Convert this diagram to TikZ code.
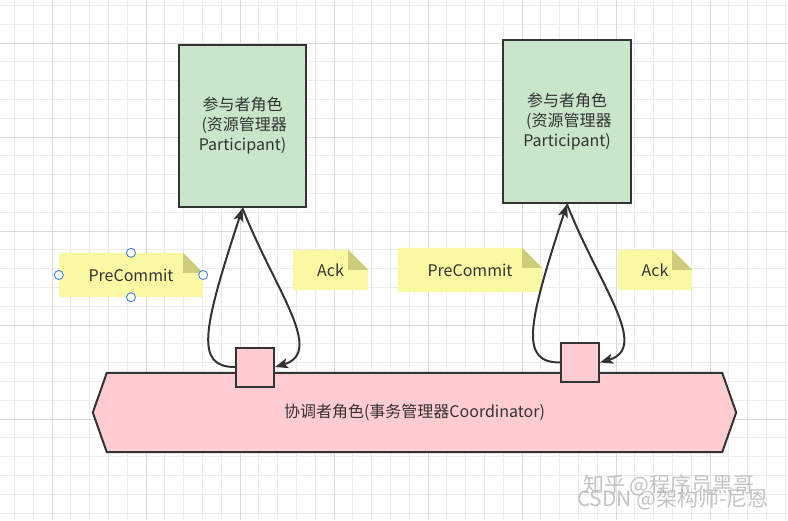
\documentclass[tikz,border=0pt]{standalone}
\usepackage{fontspec}
\setmainfont{Noto Sans CJK SC}
\usetikzlibrary{arrows.meta,backgrounds}
\definecolor{ink}{HTML}{333333}
\definecolor{gridminor}{HTML}{EBEBEB}
\definecolor{gridmajor}{HTML}{DADADA}
\definecolor{boxgreen}{HTML}{C9E6CA}
\definecolor{boxpink}{HTML}{FFCCD1}
\definecolor{notefill}{HTML}{FAF8A2}
\definecolor{foldfill}{HTML}{CDCB7C}
\definecolor{handle}{HTML}{3F85D6}
\newcommand\mynotebg[1]{%
  \fill[notefill] (#1.south west) -- (#1.north west) -- ([xshift=-20pt]#1.north east)
    -- ([yshift=-20pt]#1.north east) -- (#1.south east) -- cycle;
  \fill[foldfill] ([xshift=-20pt]#1.north east) -- ([xshift=-20pt,yshift=-20pt]#1.north east)
    -- ([yshift=-20pt]#1.north east) -- cycle;}
\begin{document}
\begin{tikzpicture}[x=1pt,y=-1pt,
  txt/.style={font=\fontsize{16}{20}\selectfont, text=ink},
  partbox/.style={rectangle, draw=ink, line width=2.5pt, fill=boxgreen, inner sep=0pt, txt, align=center},
  port/.style={rectangle, draw=ink, line width=2pt, fill=boxpink, minimum width=38pt, minimum height=39pt, inner sep=0pt},
  notebox/.style={rectangle, inner sep=0pt, txt},
  conn/.style={draw=ink, line width=2pt, -{Stealth[length=13pt,width=10pt,inset=3pt]}},
  hnd/.style={circle, draw=handle, fill=white, line width=0.9pt, minimum size=9pt, inner sep=0pt},
  wm/.style={font=\fontsize{21}{24}\selectfont, text=gray!55, opacity=0.85}]
\useasboundingbox (0,0) rectangle (788,520);

% nodes
\node[partbox, minimum width=127pt, minimum height=162pt] (box1) at (242.5,126) {参与者角色\\\ (资源管理器\\Participant)};
\node[partbox, minimum width=128pt, minimum height=163pt] (box2) at (567,121.5) {参与者角色\\\ (资源管理器\\Participant)};

\node[notebox, minimum width=144pt, minimum height=44pt] (pc1) at (131,275) {PreCommit};
\node[notebox, minimum width=75pt, minimum height=40pt] (ack1) at (330.5,270) {Ack};
\node[notebox, minimum width=144pt, minimum height=44pt] (pc2) at (470,270) {PreCommit};
\node[notebox, minimum width=74pt, minimum height=40pt] (ack2) at (655,270) {Ack};

\node[txt, minimum width=615pt, minimum height=79pt, inner sep=0pt] (coord) at (414.5,412.5) {协调者角色(事务管理器Coordinator)};

\node[port] (sq1) at (255,367) {};
\node[port] (sq2) at (580,362.5) {};

\begin{pgfonlayer}{background}
  \fill[white] (0,0) rectangle (788,520);
  \foreach \k in {-2,...,39} {\draw[gridminor, line width=0.8pt] ({52+18.8*\k},0) -- ({52+18.8*\k},520);}
  \foreach \k in {-2,...,25} {\draw[gridminor, line width=0.8pt] (0,{43+18.8*\k}) -- (788,{43+18.8*\k});}
  \foreach \k in {0,5,...,35} {\draw[gridmajor, line width=0.8pt] ({52+18.8*\k},0) -- ({52+18.8*\k},520);}
  \foreach \k in {0,5,...,20} {\draw[gridmajor, line width=0.8pt] (0,{43+18.8*\k}) -- (788,{43+18.8*\k});}
  \mynotebg{pc1}
  \mynotebg{ack1}
  \mynotebg{pc2}
  \mynotebg{ack2}
  \filldraw[fill=boxpink, draw=ink, line width=2pt, line join=miter]
    (coord.north west) -- (coord.north east) -- ([xshift=14pt]coord.east)
    -- (coord.south east) -- (coord.south west) -- ([xshift=-14pt]coord.west) -- cycle;
\end{pgfonlayer}

% connectors
\draw[conn] (sq1.west) .. controls +(-40,0) and +(-40,122) .. (box1.south);
\draw[conn] (box1.south) .. controls +(33,83) and +(50,-15) .. (sq1.east);
\draw[conn] (sq2.west) .. controls +(-40,0) and +(-40,122) .. (box2.south);
\draw[conn] (box2.south) .. controls +(33,83) and +(50,-15) .. (sq2.east);

% selection handles
\node[hnd] (h1) at (pc1.west) {};
\node[hnd] (h2) at (pc1.east) {};
\node[hnd] (h3) at (pc1.north) {};
\node[hnd] (h4) at (pc1.south) {};

% watermarks
\node[wm] (wm1) at (669,485) {知乎 @程序员黑哥};
\node[wm] (wm2) at (673,499) {CSDN @架构师-尼恩};
\end{tikzpicture}
\end{document}
